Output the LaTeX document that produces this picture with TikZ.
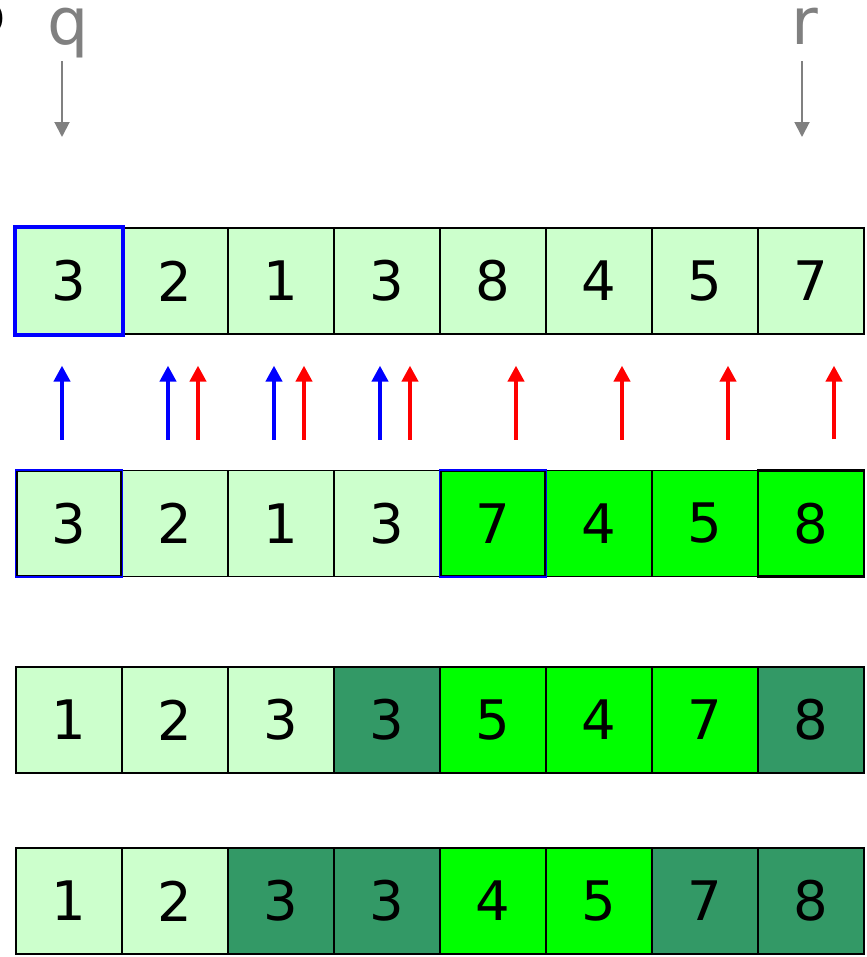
\documentclass[tikz,border=0pt]{standalone}
\usepackage{fontspec}
\setmainfont{DejaVu Sans}
\usetikzlibrary{arrows.meta}
\definecolor{pale}{HTML}{CCFFCC}
\definecolor{lime}{HTML}{00FF00}
\definecolor{sea}{HTML}{339966}
\definecolor{ptr}{HTML}{808080}
\tikzset{
  cell/.style={draw=black, line width=0.7pt, minimum size=2.12cm, inner sep=0pt,
    font=\fontsize{31}{31}\selectfont},
  hard/.style={cell, line width=1.2pt},
  pick/.style={draw=blue, line width=#1},
  lbl/.style={text=ptr, font=\fontsize{37}{37}\selectfont, inner sep=0pt},
  down/.style={ptr, line width=1.1pt, -{Triangle[length=0.3cm,width=0.3cm]}},
  upb/.style={blue, line width=2.4pt, -{Triangle[length=0.32cm,width=0.32cm]}},
  upr/.style={red, line width=2.4pt, -{Triangle[length=0.32cm,width=0.32cm]}}
}
\begin{document}
\begin{tikzpicture}[x=0.02cm, y=-0.02cm]
    \useasboundingbox (0,0) rectangle (866,957);
    \clip (0,0) rectangle (866,957);

    % Cut-off letter at the left border
    \node[font=\fontsize{31}{31}\selectfont, anchor=base east, inner sep=0pt] (cut) at (6,33) {o};

    % Pointers q and r
    \node[lbl, anchor=base] (q) at (68,44) {q};
    \node[lbl, anchor=base] (r) at (805,44) {r};
    \coordinate (qtop) at (62,61);
    \coordinate (qend) at (62,137);
    \coordinate (rtop) at (802,61);
    \coordinate (rend) at (802,137);
    \draw[down] (qtop) -- (qend);
    \draw[down] (rtop) -- (rend);

    % Row 1: input
    \node[cell, fill=pale] (a1) at (69,281) {3};
    \node[cell, fill=pale] (a2) at (175,281) {2};
    \node[cell, fill=pale] (a3) at (281,281) {1};
    \node[cell, fill=pale] (a4) at (387,281) {3};
    \node[cell, fill=pale] (a5) at (493,281) {8};
    \node[cell, fill=pale] (a6) at (599,281) {4};
    \node[cell, fill=pale] (a7) at (705,281) {5};
    \node[cell, fill=pale] (a8) at (811,281) {7};
    \draw[pick=2.3pt] (a1.north west) rectangle (a1.south east);

    % Row 2: after partition
    \node[cell, fill=pale] (b1) at (69,523.5) {3};
    \node[cell, fill=pale] (b2) at (175,523.5) {2};
    \node[cell, fill=pale] (b3) at (281,523.5) {1};
    \node[cell, fill=pale] (b4) at (387,523.5) {3};
    \node[cell, fill=lime] (b5) at (493,523.5) {7};
    \node[cell, fill=lime] (b6) at (599,523.5) {4};
    \node[cell, fill=lime] (b7) at (705,523.5) {5};
    \node[hard, fill=lime, line width=1.6pt] (b8) at (811,523.5) {8};
    \draw[pick=0.8pt] (b1.north west) rectangle (b1.south east);
    \draw[black, line width=1pt] ([shift={(0.9pt,-0.9pt)}]b1.north west) rectangle ([shift={(-0.9pt,0.9pt)}]b1.south east);
    \draw[pick=0.8pt] (b5.north west) rectangle (b5.south east);
    \draw[black, line width=1pt] ([shift={(0.9pt,-0.9pt)}]b5.north west) rectangle ([shift={(-0.9pt,0.9pt)}]b5.south east);

    % Arrows from row 2 up to row 1
    \draw[upb] ([xshift=-0.14cm,yshift=0.6cm]b1.north) -- ([xshift=-0.14cm,yshift=-0.62cm]a1.south);
    \draw[upb] ([xshift=-0.14cm,yshift=0.6cm]b2.north) -- ([xshift=-0.14cm,yshift=-0.62cm]a2.south);
    \draw[upr] ([xshift=0.46cm,yshift=0.6cm]b2.north) -- ([xshift=0.46cm,yshift=-0.62cm]a2.south);
    \draw[upb] ([xshift=-0.14cm,yshift=0.6cm]b3.north) -- ([xshift=-0.14cm,yshift=-0.62cm]a3.south);
    \draw[upr] ([xshift=0.46cm,yshift=0.6cm]b3.north) -- ([xshift=0.46cm,yshift=-0.62cm]a3.south);
    \draw[upb] ([xshift=-0.14cm,yshift=0.6cm]b4.north) -- ([xshift=-0.14cm,yshift=-0.62cm]a4.south);
    \draw[upr] ([xshift=0.46cm,yshift=0.6cm]b4.north) -- ([xshift=0.46cm,yshift=-0.62cm]a4.south);
    \draw[upr] ([xshift=0.46cm,yshift=0.6cm]b5.north) -- ([xshift=0.46cm,yshift=-0.62cm]a5.south);
    \draw[upr] ([xshift=0.46cm,yshift=0.6cm]b6.north) -- ([xshift=0.46cm,yshift=-0.62cm]a6.south);
    \draw[upr] ([xshift=0.46cm,yshift=0.6cm]b7.north) -- ([xshift=0.46cm,yshift=-0.62cm]a7.south);
    \draw[upr] ([xshift=0.46cm,yshift=0.6cm]b8.north) -- ([xshift=0.46cm,yshift=-0.62cm]a8.south);

    % Row 3
    \node[cell, fill=pale] (c1) at (69,720) {1};
    \node[cell, fill=pale] (c2) at (175,720) {2};
    \node[cell, fill=pale] (c3) at (281,720) {3};
    \node[hard, fill=sea] (c4) at (387,720) {3};
    \node[cell, fill=lime] (c5) at (493,720) {5};
    \node[cell, fill=lime] (c6) at (599,720) {4};
    \node[cell, fill=lime] (c7) at (705,720) {7};
    \node[hard, fill=sea] (c8) at (811,720) {8};

    % Row 4: sorted
    \node[cell, fill=pale] (d1) at (69,901) {1};
    \node[cell, fill=pale] (d2) at (175,901) {2};
    \node[hard, fill=sea] (d3) at (281,901) {3};
    \node[hard, fill=sea] (d4) at (387,901) {3};
    \node[cell, fill=lime] (d5) at (493,901) {4};
    \node[cell, fill=lime] (d6) at (599,901) {5};
    \node[hard, fill=sea] (d7) at (705,901) {7};
    \node[hard, fill=sea] (d8) at (811,901) {8};
\end{tikzpicture}
\end{document}
